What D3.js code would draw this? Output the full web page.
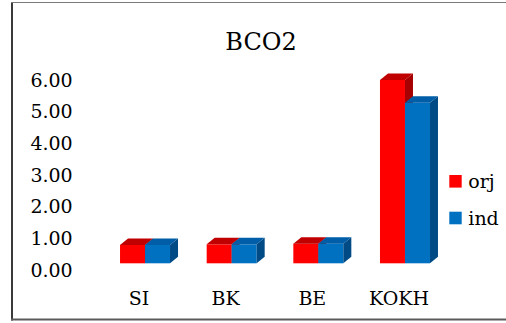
<!DOCTYPE html>
<html>
<head>
<meta charset="utf-8">
<script src="https://cdn.jsdelivr.net/npm/d3@7"></script>
<style>
  html, body { margin: 0; padding: 0; background: #fff; }
  svg { display: block; }
  text { font-family: "DejaVu Serif", serif; fill: #000; }
</style>
</head>
<body>
<svg id="chart" width="506" height="323"></svg>
<script>
// Data
const categories = ["SI", "BK", "BE", "KOKH"];
const seriesNames = ["orj", "ind"];
const orj = [0.58, 0.60, 0.62, 5.79];
const ind = [0.58, 0.60, 0.62, 5.07];
const yTicks = [0, 1, 2, 3, 4, 5, 6];
const chartTitle = "BCO2";

const seriesValues = { orj: orj, ind: ind };
const palette = {
  orj: { front: "#FF0000", top: "#C00000", side: "#A60000" },
  ind: { front: "#0070C0", top: "#005EA8", side: "#004A85" }
};

const svg = d3.select("#chart");
const W = 506, H = 323;

// 3D depth offset of the bars
const depthX = 8, depthY = 6.5;

// Scales
const y = d3.scaleLinear().domain([0, 6]).range([263.3, 73.3]);
const x0 = d3.scaleBand().domain(categories).range([101.7, 448.3])
  .paddingInner(0.423).paddingOuter(0.2115);
const x1 = d3.scaleBand().domain(seriesNames).range([0, x0.bandwidth()]);

// Frame
svg.append("line").attr("x1", 12).attr("x2", 12).attr("y1", 2).attr("y2", 320.5)
  .attr("stroke", "#3a3a3a").attr("stroke-width", 2);
svg.append("line").attr("x1", 11).attr("x2", W).attr("y1", 2.5).attr("y2", 2.5)
  .attr("stroke", "#7a7a7a").attr("stroke-width", 1);
svg.append("line").attr("x1", 11).attr("x2", W).attr("y1", 319.5).attr("y2", 319.5)
  .attr("stroke", "#5a5a5a").attr("stroke-width", 2);

// Title
svg.append("text").attr("x", 261).attr("y", 50)
  .attr("text-anchor", "middle").style("font-size", "24px").text(chartTitle);

// Value axis labels
const yAxis = svg.append("g").attr("class", "y-axis");
yAxis.selectAll("text").data(yTicks).join("text")
  .attr("x", 72.7)
  .attr("y", d => y(d) + depthY)
  .attr("dy", "0.36em")
  .attr("text-anchor", "end")
  .style("font-size", "19px")
  .text(d => d3.format(".2f")(d));

// Category axis labels
const xAxis = svg.append("g").attr("class", "x-axis");
xAxis.selectAll("text").data(categories).join("text")
  .attr("x", d => x0(d) + x0.bandwidth() / 2 - 6)
  .attr("y", 305)
  .attr("text-anchor", "middle")
  .style("font-size", "19px")
  .text(d => d);

// Bars drawn as 3D boxes: front face, top face, right side face
const bars = [];
categories.forEach((c, i) => {
  seriesNames.forEach(s => {
    bars.push({ cat: c, series: s, value: seriesValues[s][i] });
  });
});

const barG = svg.append("g").attr("class", "bars");
const groups = barG.selectAll("g.bar").data(bars).join("g").attr("class", "bar");

groups.each(function(d) {
  const g = d3.select(this);
  const bx = x0(d.cat) + x1(d.series);
  const bw = x1.bandwidth();
  const yt = y(d.value), yb = y(0);
  const col = palette[d.series];
  g.append("rect").attr("x", bx).attr("y", yt).attr("width", bw).attr("height", yb - yt)
    .attr("fill", col.front);
  g.append("path").attr("fill", col.top)
    .attr("d", `M${bx},${yt}L${bx + depthX},${yt - depthY}L${bx + bw + depthX},${yt - depthY}L${bx + bw},${yt}Z`);
  g.append("path").attr("fill", col.side)
    .attr("d", `M${bx + bw},${yt}L${bx + bw + depthX},${yt - depthY}L${bx + bw + depthX},${yb - depthY}L${bx + bw},${yb}Z`);
});

// Legend
const legend = svg.append("g").attr("class", "legend");
const legendRows = legend.selectAll("g").data(seriesNames).join("g")
  .attr("transform", (d, i) => `translate(449.3, ${175 + i * 36.7})`);
legendRows.append("rect").attr("width", 12.4).attr("height", 12.6)
  .attr("fill", d => palette[d].front);
legendRows.append("text").attr("x", 19).attr("y", 12.8)
  .style("font-size", "19px").text(d => d);
</script>
</body>
</html>
